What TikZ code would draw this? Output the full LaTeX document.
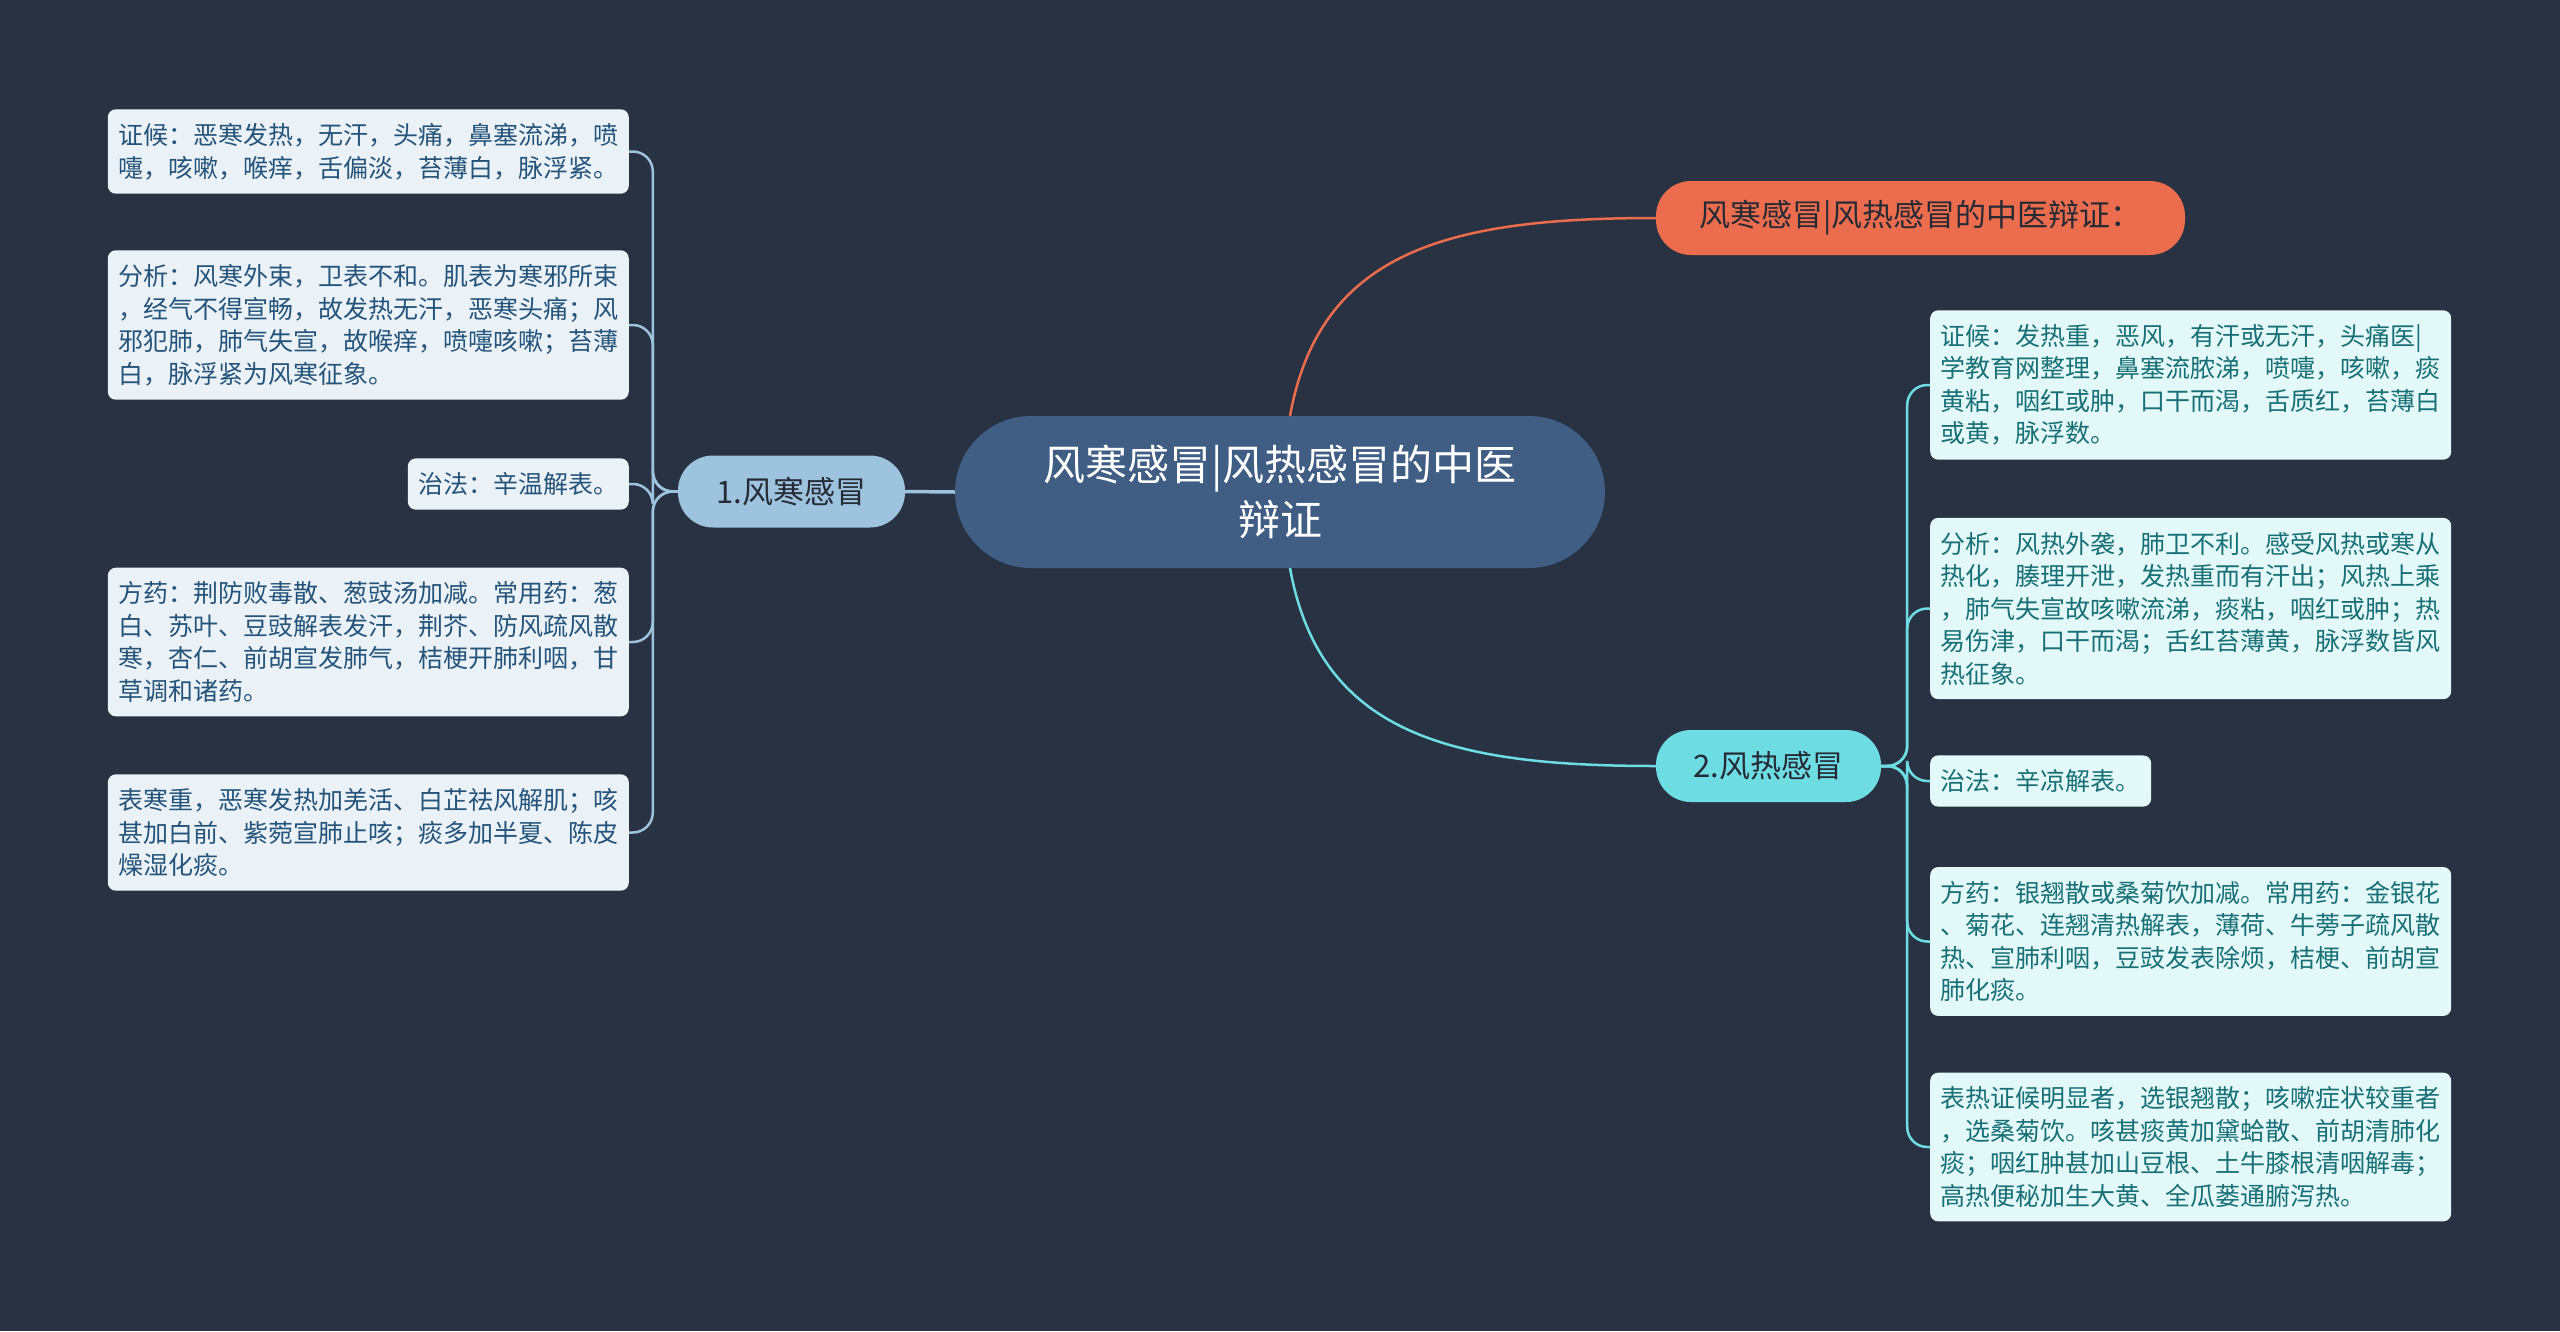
\documentclass[tikz,border=0pt]{standalone}
\usepackage{fontspec}
\setmainfont{Noto Sans CJK SC}
\usepackage{tikz}
\usetikzlibrary{positioning}
\definecolor{bg}{RGB}{41,50,66}
\definecolor{rootblue}{RGB}{64,93,132}
\definecolor{coldblue}{RGB}{157,195,222}
\definecolor{coldleaf}{RGB}{234,242,248}
\definecolor{coldtext}{RGB}{36,84,122}
\definecolor{hotcyan}{RGB}{110,220,227}
\definecolor{hotleaf}{RGB}{226,248,249}
\definecolor{hottext}{RGB}{24,112,118}
\definecolor{accent}{RGB}{236,108,78}
\definecolor{darktext}{RGB}{38,42,52}

\begin{document}
\begin{tikzpicture}[x=1pt, y=-1pt,
  leaf/.style={rounded corners=8pt, inner xsep=10.5pt, inner ysep=14pt,
    text width=500pt, align=left, font=\fontsize{25}{32.5}\selectfont},
  coldleafbox/.style={leaf, fill=coldleaf, text=coldtext},
  hotleafbox/.style={leaf, fill=hotleaf, text=hottext},
  topic/.style={rounded corners=35pt, minimum height=72pt, inner sep=0pt,
    font=\fontsize{31}{38}\selectfont, text=darktext},
  coldline/.style={coldblue, line width=2.5pt, rounded corners=20pt},
  hotline/.style={hotcyan, line width=2.5pt, rounded corners=20pt}]
  \useasboundingbox (0,0) rectangle (2560,1331);
  \fill[bg] (0,0) rectangle (2560,1331);

  % root and main branches
  \node[fill=rootblue, text=white, rounded corners=76pt, minimum width=650pt,
    minimum height=152pt, align=center, font=\fontsize{42}{55}\selectfont]
    (root) at (1280,492) {风寒感冒|风热感冒的中医\\辩证};
  \node[topic, fill=coldblue, minimum width=227pt] (cold) at (791.5,491.5) {1.风寒感冒};
  \node[topic, fill=accent, minimum width=529pt, minimum height=74pt] (title) at (1920.5,218)
    {风寒感冒|风热感冒的中医辩证：};
  \node[topic, fill=hotcyan, minimum width=225pt] (hot) at (1768.5,766) {2.风热感冒};

  \draw[coldblue, line width=3.5pt] (root.west) -- (cold.east);
  \draw[accent, line width=2.5pt] (1290,416) .. controls (1320,250) and (1450,218) .. (title.west);
  \draw[hotcyan, line width=2.5pt] (1290,568) .. controls (1320,734) and (1450,766) .. (hot.west);

  % wind-cold leaves
  \node[coldleafbox, anchor=east] (c1) at (629,151.5)
    {证候：恶寒发热，无汗，头痛，鼻塞流涕，喷\\嚏，咳嗽，喉痒，舌偏淡，苔薄白，脉浮紧。};
  \node[coldleafbox, anchor=east] (c2) at (629,325)
    {分析：风寒外束，卫表不和。肌表为寒邪所束\\，经气不得宣畅，故发热无汗，恶寒头痛；风\\邪犯肺，肺气失宣，故喉痒，喷嚏咳嗽；苔薄\\白，脉浮紧为风寒征象。};
  \node[coldleafbox, anchor=east, text width=200pt] (c3) at (629,484) {治法：辛温解表。};
  \node[coldleafbox, anchor=east] (c4) at (629,642)
    {方药：荆防败毒散、葱豉汤加减。常用药：葱\\白、苏叶、豆豉解表发汗，荆芥、防风疏风散\\寒，杏仁、前胡宣发肺气，桔梗开肺利咽，甘\\草调和诸药。};
  \node[coldleafbox, anchor=east] (c5) at (629,832.5)
    {表寒重，恶寒发热加羌活、白芷祛风解肌；咳\\甚加白前、紫菀宣肺止咳；痰多加半夏、陈皮\\燥湿化痰。};

  % wind-heat leaves
  \node[hotleafbox, anchor=west] (h1) at (1930,385)
    {证候：发热重，恶风，有汗或无汗，头痛医|\\学教育网整理，鼻塞流脓涕，喷嚏，咳嗽，痰\\黄粘，咽红或肿，口干而渴，舌质红，苔薄白\\或黄，脉浮数。};
  \node[hotleafbox, anchor=west] (h2) at (1930,608.5)
    {分析：风热外袭，肺卫不利。感受风热或寒从\\热化，腠理开泄，发热重而有汗出；风热上乘\\，肺气失宣故咳嗽流涕，痰粘，咽红或肿；热\\易伤津，口干而渴；舌红苔薄黄，脉浮数皆风\\热征象。};
  \node[hotleafbox, anchor=west, text width=200pt] (h3) at (1930,781) {治法：辛凉解表。};
  \node[hotleafbox, anchor=west] (h4) at (1930,941.5)
    {方药：银翘散或桑菊饮加减。常用药：金银花\\、菊花、连翘清热解表，薄荷、牛蒡子疏风散\\热、宣肺利咽，豆豉发表除烦，桔梗、前胡宣\\肺化痰。};
  \node[hotleafbox, anchor=west] (h5) at (1930,1147)
    {表热证候明显者，选银翘散；咳嗽症状较重者\\，选桑菊饮。咳甚痰黄加黛蛤散、前胡清肺化\\痰；咽红肿甚加山豆根、土牛膝根清咽解毒；\\高热便秘加生大黄、全瓜蒌通腑泻热。};

  \foreach \n in {c1,c2,c3,c4,c5}
    \draw[coldline] (cold.west) -- ++(-25,0) |- (\n.east);
  \foreach \n in {h1,h2,h3,h4,h5}
    \draw[hotline] (hot.east) -- ++(26,0) |- (\n.west);
\end{tikzpicture}
\end{document}
